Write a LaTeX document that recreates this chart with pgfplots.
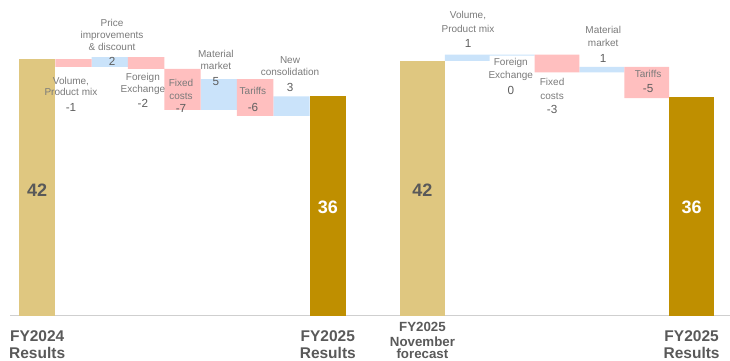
\documentclass[border=0pt]{standalone}
\usepackage{fontspec}
\setmainfont{Liberation Sans}
\usepackage{pgfplots}
\pgfplotsset{compat=1.18}
\definecolor{lgold}{HTML}{DFC780}
\definecolor{dgold}{HTML}{BF8F00}
\definecolor{pinkbar}{HTML}{FFBFBF}
\definecolor{bluebar}{HTML}{CAE3FA}
\definecolor{labgray}{HTML}{7A7A7A}
\definecolor{numgray}{HTML}{5E5E5E}
\definecolor{catgray}{HTML}{595959}
\definecolor{linegray}{HTML}{CFCFCF}
\newcommand\lab[3]{\node[anchor=base, font=\fontsize{10bp}{12bp}\selectfont, text=labgray, inner sep=0pt] at (axis cs:#1,#2) {#3};}
\newcommand\val[3]{\node[anchor=base, font=\fontsize{11.7bp}{14bp}\selectfont, text=numgray, inner sep=0pt] at (axis cs:#1,#2) {#3};}
\newcommand\bignum[4]{\node[anchor=base, font=\fontsize{18bp}{20bp}\selectfont\bfseries, text=#4, inner sep=0pt] at (axis cs:#1,#2) {#3};}
\newcommand\cat[3]{\node[anchor=base, font=\fontsize{15.5bp}{18bp}\selectfont\bfseries, text=catgray, inner sep=0pt] at (axis cs:#1,#2) {#3};}
\newcommand\catsm[3]{\node[anchor=base, font=\fontsize{13.3bp}{15bp}\selectfont\bfseries, text=catgray, inner sep=0pt] at (axis cs:#1,#2) {#3};}
\pgfplotsset{
  base/.style={
    anchor=south west, scale only axis, height=305.95bp,
    ymin=0, ymax=50,
    xtick=\empty, ytick=\empty, clip=false,
  },
  wf/.style={
    base,
    axis y line=none, axis x line*=bottom,
    axis line style={draw=linegray, line width=1bp},
    ybar stacked, bar width=1,
  },
  txt/.style={base, axis lines=none},
  leftp/.style={at={(10bp,45bp)}, width=363bp, xmin=-0.748, xmax=9.244},
  rightp/.style={at={(373bp,45bp)}, width=357bp, xmin=-1.102, xmax=6.856},
}
\begin{document}
\begin{tikzpicture}
\useasboundingbox (0,0) rectangle (730bp,361bp);
% ---------------- left panel ----------------
\begin{axis}[wf, leftp]
\addplot[fill=white, draw=none, fill opacity=0] coordinates {(0,0) (1,40.7) (2,40.7) (3,40.4) (4,33.7) (5,33.7) (6,32.7) (7,32.7) (8,0)};
\addplot[fill=pinkbar, draw=none] coordinates {(0,0) (1,1.3) (2,0) (3,1.9) (4,6.7) (5,0) (6,6.0) (7,0) (8,0)};
\addplot[fill=bluebar, draw=none] coordinates {(0,0) (1,0) (2,1.6) (3,0) (4,0) (5,5.0) (6,0) (7,3.2) (8,0)};
\addplot[fill=lgold, draw=none] coordinates {(0,42) (1,0) (2,0) (3,0) (4,0) (5,0) (6,0) (7,0) (8,0)};
\addplot[fill=dgold, draw=none] coordinates {(0,0) (1,0) (2,0) (3,0) (4,0) (5,0) (6,0) (7,0) (8,36)};
\end{axis}
\begin{axis}[txt, leftp]
\bignum{0}{19.61}{42}{catgray}
\bignum{8}{16.67}{36}{white}
\lab{0.93}{37.91}{Volume,}
\lab{0.93}{36.00}{Product mix}
\val{0.93}{33.50}{-1}
\lab{2.06}{47.31}{Price}
\lab{2.06}{45.43}{improvements}
\lab{2.06}{43.39}{\& discount}
\val{2.06}{40.90}{2}
\lab{2.91}{38.45}{Foreign}
\lab{2.91}{36.56}{Exchange}
\val{2.91}{34.04}{-2}
\lab{3.96}{37.47}{Fixed}
\lab{3.96}{35.46}{costs}
\val{3.96}{33.22}{-7}
\lab{4.92}{42.21}{Material}
\lab{4.92}{40.25}{market}
\val{4.92}{37.70}{5}
\lab{5.94}{36.12}{Tariffs}
\val{5.94}{33.50}{-6}
\lab{6.96}{41.30}{New}
\lab{6.96}{39.27}{consolidation}
\val{6.96}{36.66}{3}
\cat{0}{-4.1}{FY2024}
\cat{0}{-6.95}{Results}
\cat{8}{-4.1}{FY2025}
\cat{8}{-6.95}{Results}
\end{axis}
% ---------------- right panel ----------------
\begin{axis}[wf, rightp]
\addplot[fill=white, draw=none, fill opacity=0] coordinates {(0,0) (1,41.7) (2,42.55) (3,39.8) (4,39.8) (5,35.6) (6,0)};
\addplot[fill=pinkbar, draw=none] coordinates {(0,0) (1,0) (2,0) (3,2.9) (4,0) (5,5.1) (6,0)};
\addplot[fill=bluebar, draw=none] coordinates {(0,0) (1,1.0) (2,0.15) (3,0) (4,0.9) (5,0) (6,0)};
\addplot[fill=lgold, draw=none] coordinates {(0,41.7) (1,0) (2,0) (3,0) (4,0) (5,0) (6,0)};
\addplot[fill=dgold, draw=none] coordinates {(0,0) (1,0) (2,0) (3,0) (4,0) (5,0) (6,35.8)};
\end{axis}
\begin{axis}[txt, rightp]
\bignum{0}{19.45}{42}{catgray}
\bignum{6}{16.67}{36}{white}
\lab{1.016}{48.54}{Volume,}
\lab{1.016}{46.41}{Product mix}
\val{1.016}{43.85}{1}
\lab{1.97}{40.86}{Foreign}
\lab{1.97}{38.78}{Exchange}
\val{1.97}{36.28}{0}
\lab{2.89}{37.59}{Fixed}
\lab{2.89}{35.46}{costs}
\val{2.89}{33.13}{-3}
\lab{4.03}{46.09}{Material}
\lab{4.03}{44.08}{market}
\val{4.03}{41.51}{1}
\lab{5.03}{39.01}{Tariffs}
\val{5.03}{36.49}{-5}
\catsm{0}{-2.5}{FY2025}
\catsm{0}{-4.95}{November}
\catsm{0}{-7.0}{forecast}
\cat{6}{-4.1}{FY2025}
\cat{6}{-6.95}{Results}
\end{axis}
\end{tikzpicture}
\end{document}
